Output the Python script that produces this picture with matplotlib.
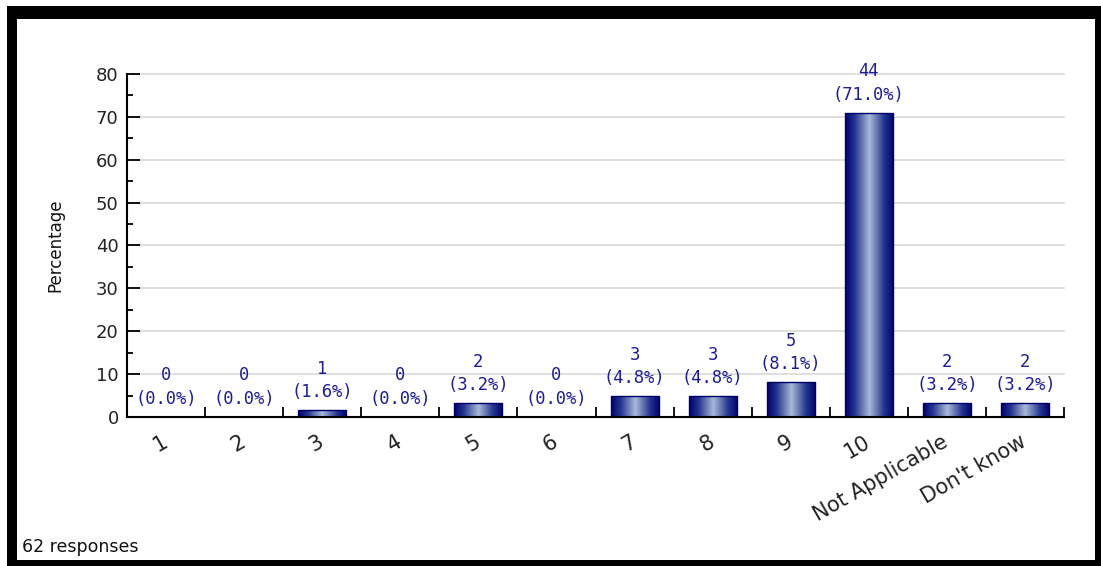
import matplotlib.pyplot as plt
import numpy as np
from matplotlib.patches import Rectangle
from matplotlib.colors import LinearSegmentedColormap

# survey answers
categories = ['1', '2', '3', '4', '5', '6', '7', '8', '9', '10', 'Not Applicable', "Don't know"]
counts = [0, 0, 1, 0, 2, 0, 3, 3, 5, 44, 2, 2]
percents = [0.0, 0.0, 1.6, 0.0, 3.2, 0.0, 4.8, 4.8, 8.1, 71.0, 3.2, 3.2]
total = 62

W, H = 1101, 566
fig = plt.figure(figsize=(W / 100, H / 100), dpi=100)
fig.patch.set_facecolor('white')

# black frame round the chart
for (x0, y0, x1, y1) in [(7, 6, 1101, 19), (7, 6, 17, 566), (1095, 6, 1101, 566), (7, 560, 1101, 566)]:
    fig.add_artist(Rectangle((x0 / W, 1 - y1 / H), (x1 - x0) / W, (y1 - y0) / H,
                             transform=fig.transFigure, facecolor='black', edgecolor='none'))

ax = fig.add_axes([127 / W, 1 - 417 / H, (1064 - 127) / W, (417 - 74) / H])

pos = np.arange(1, len(categories) + 1)
bars = ax.bar(pos, percents, width=0.615, facecolor='none', edgecolor='#00006a', linewidth=1, zorder=3)

cmap = LinearSegmentedColormap.from_list(
    'barshade', [(0, '#00006e'), (0.2, '#25358f'), (0.5, '#a8bad8'), (0.8, '#25358f'), (1, '#00006e')])
grad = np.linspace(0, 1, 256).reshape(1, -1)
for b in bars:
    if b.get_height() <= 0:
        continue
    im = ax.imshow(grad, cmap=cmap, aspect='auto', zorder=2,
                   extent=(b.get_x(), b.get_x() + b.get_width(), 0, b.get_height()))
    im.set_clip_path(b)

for p, c, pc in zip(pos, counts, percents):
    ax.annotate(f'{c}\n({pc:.1f}%)', (p, pc), xytext=(0, 6.5), textcoords='offset points',
                ha='center', va='bottom', fontsize=12.3, family='DejaVu Sans Mono',
                color='#1c1c9c', linespacing=1.4)

ax.set_xlim(0.5, len(categories) + 0.5)
ax.set_ylim(0, 80)

ax.set_xticks(np.arange(0.5, len(categories) + 1, 1))
ax.set_xticklabels([])
ax.set_xticks(pos, minor=True)
ax.set_xticklabels(categories, minor=True, rotation=30, ha='right', va='center',
                   rotation_mode='anchor', fontsize=15, color='#222222')
ax.tick_params(axis='x', which='major', direction='in', length=7, width=1.3, color='black')
ax.tick_params(axis='x', which='minor', length=0, pad=17)

ax.set_yticks(np.arange(0, 81, 10))
ax.set_yticks(np.arange(0, 81, 5), minor=True)
ax.tick_params(axis='y', which='major', direction='in', length=9, width=1.3,
               labelsize=13, labelcolor='#222222', pad=6)
ax.tick_params(axis='y', which='minor', direction='in', length=4, width=1.3)

ax.yaxis.grid(True, color='#dcdcdc', linewidth=1.3, zorder=0)
for gl in ax.get_ygridlines():
    gl.set_clip_on(False)
ax.set_axisbelow(True)

for s in ['top', 'right']:
    ax.spines[s].set_visible(False)
for s in ['left', 'bottom']:
    ax.spines[s].set_linewidth(1.5)
    ax.spines[s].set_zorder(4)

ax.set_ylabel('Percentage', fontsize=12, labelpad=23, color='#111111')

fig.text(22 / W, 1 - 547 / H, f'{total} responses', fontsize=12.5, va='center', ha='left', color='#111111')

fig.savefig('out.png', dpi=100)
